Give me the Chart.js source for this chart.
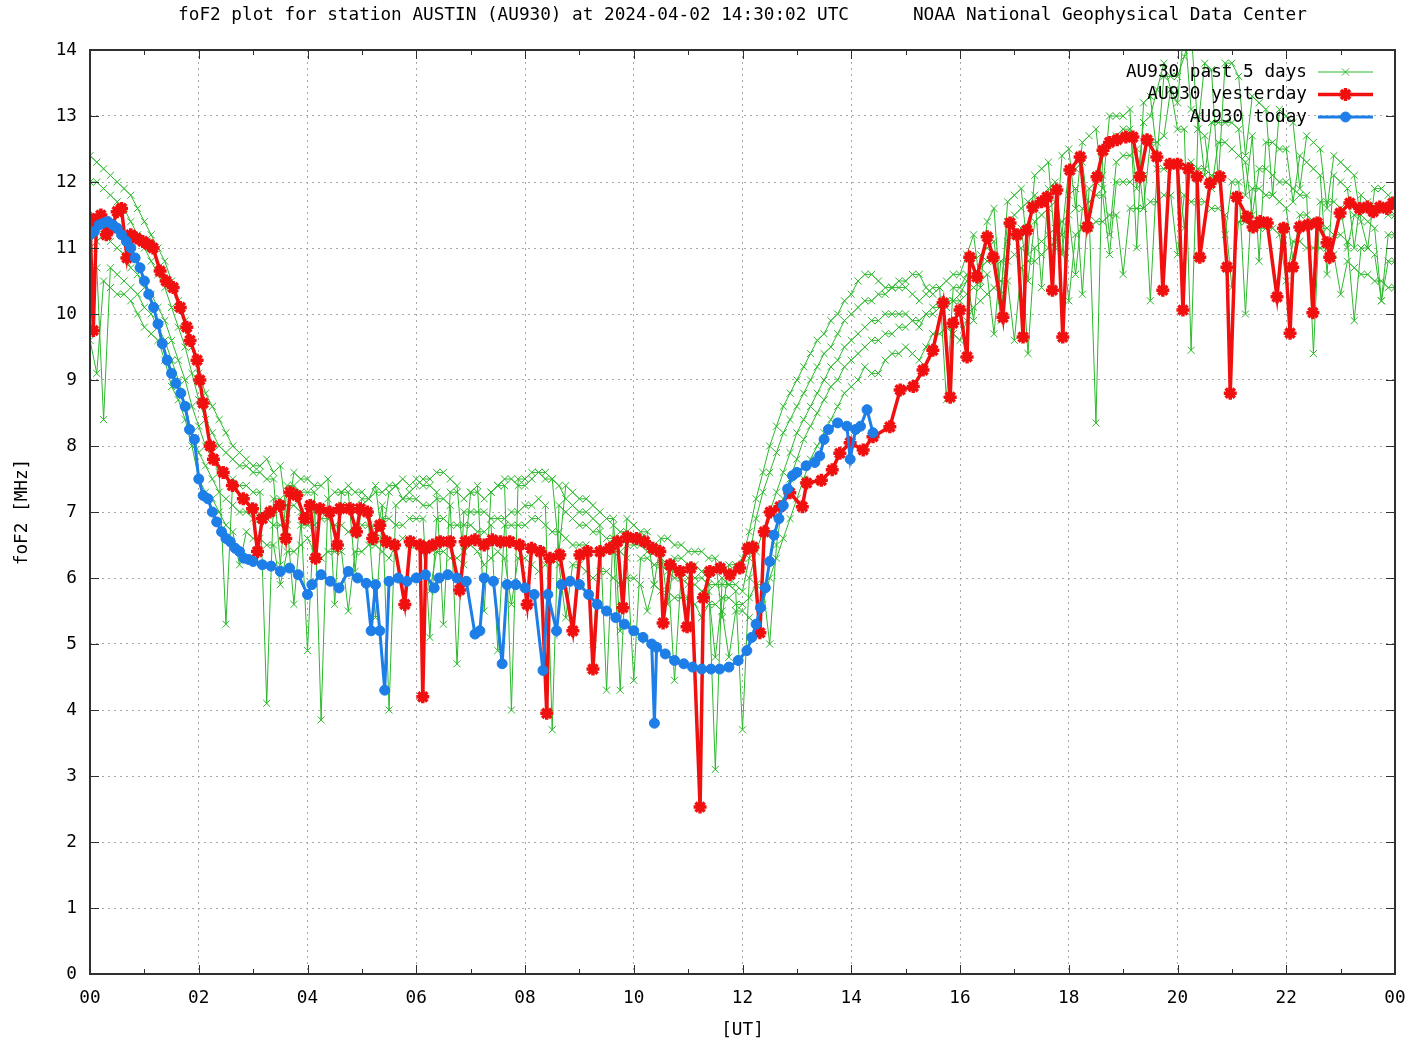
<!DOCTYPE html>
<html>
<head>
<meta charset="utf-8">
<script src="https://cdn.jsdelivr.net/npm/chart.js@4.4.1/dist/chart.umd.min.js"></script>
<style>
  html, body { margin: 0; padding: 0; background: #ffffff; }
  #wrap { width: 1408px; height: 1042px; }
</style>
</head>
<body>
<div id="wrap"><canvas id="c" width="1408" height="1042"></canvas></div>
<script>
// ---------------- DATA ----------------
const chartTitle = 'foF2 plot for station AUSTIN (AU930) at 2024-04-02 14:30:02 UTC      NOAA National Geophysical Data Center';
const xAxisTitle = '[UT]';
const yAxisTitle = 'foF2 [MHz]';
const seriesLabels = ['AU930 past 5 days', 'AU930 yesterday', 'AU930 today'];

// past 5 days (shared time base, 7.5-minute cadence)
const greenHours = [
 0,0.125,0.25,0.375,0.5,0.625,0.75,0.875, 1,1.125,1.25,1.375,1.5,1.625,1.75,1.875,
 2,2.125,2.25,2.375,2.5,2.625,2.75,2.875, 3,3.125,3.25,3.375,3.5,3.625,3.75,3.875,
 4,4.125,4.25,4.375,4.5,4.625,4.75,4.875, 5,5.125,5.25,5.375,5.5,5.625,5.75,5.875,
 6,6.125,6.25,6.375,6.5,6.625,6.75,6.875, 7,7.125,7.25,7.375,7.5,7.625,7.75,7.875,
 8,8.125,8.25,8.375,8.5,8.625,8.75,8.875, 9,9.125,9.25,9.375,9.5,9.625,9.75,9.875,
 10,10.125,10.25,10.375,10.5,10.625,10.75,10.875, 11,11.125,11.25,11.375,11.5,11.625,11.75,11.875,
 12,12.125,12.25,12.375,12.5,12.625,12.75,12.875, 13,13.125,13.25,13.375,13.5,13.625,13.75,13.875,
 14,14.125,14.25,14.375,14.5,14.625,14.75,14.875, 15,15.125,15.25,15.375,15.5,15.625,15.75,15.875,
 16,16.125,16.25,16.375,16.5,16.625,16.75,16.875, 17,17.125,17.25,17.375,17.5,17.625,17.75,17.875,
 18,18.125,18.25,18.375,18.5,18.625,18.75,18.875, 19,19.125,19.25,19.375,19.5,19.625,19.75,19.875,
 20,20.125,20.25,20.375,20.5,20.625,20.75,20.875, 21,21.125,21.25,21.375,21.5,21.625,21.75,21.875,
 22,22.125,22.25,22.375,22.5,22.625,22.75,22.875, 23,23.125,23.25,23.375,23.5,23.625,23.75,23.875,
 24];

const pastDay1 = [
 12.4,12.3,12.2,12.1,12.0,11.9,11.8,11.6, 11.4,11.2,11.0,10.8,10.5,10.2,9.9,9.5,
 9.1,8.8,8.6,8.4,8.2,8.0,7.9,7.8, 7.7,7.7,7.8,7.6,7.7,6.9,7.6,7.5,
 7.5,7.4,7.4,7.5,5.6,7.3,7.4,7.3, 7.3,7.2,7.4,6.6,7.3,7.4,7.2,7.3,
 7.4,7.5,7.5,7.6,7.6,7.5,7.4,6.2, 7.3,7.4,5.5,7.3,7.4,7.5,7.5,7.4,
 7.4,7.5,7.6,7.6,7.5,6.4,7.4,7.3, 7.2,7.2,7.1,7.0,6.9,6.9,5.2,6.9,
 6.8,6.7,6.7,5.9,6.6,6.6,6.5,6.5, 6.4,6.4,6.4,6.3,6.3,5.4,6.2,6.2,
 6.3,6.7,7.2,7.6,8.0,8.3,8.6,8.8, 9.0,9.2,9.4,9.6,9.7,9.9,10.0,10.2,
 10.3,10.5,10.6,10.6,10.5,10.4,10.4,10.5, 10.5,10.6,10.6,10.4,10.3,10.4,10.5,10.6,
 10.6,10.9,11.2,10.4,11.4,11.6,10.2,11.7, 11.8,11.9,10.9,12.1,12.2,12.3,11.0,12.4,
 12.5,11.6,12.6,12.7,12.8,11.9,13.0,13.0, 13.0,13.1,11.0,13.2,13.3,12.4,13.6,13.6,
 13.6,13.9,14.3,12.8,13.8,13.7,12.0,13.8, 13.8,13.6,12.4,13.3,13.2,13.1,11.8,13.1,
 13.0,12.9,11.9,12.7,12.6,12.5,11.6,12.4, 12.3,12.2,12.1,11.4,11.0,11.9,11.9,11.8,
 11.7];
const pastDay2 = [
 12.0,12.0,11.9,11.8,11.7,11.6,11.4,11.2, 11.0,10.8,10.6,10.4,10.1,9.8,9.5,9.1,
 8.7,8.4,8.2,8.0,7.9,7.8,7.7,7.7, 7.6,7.6,7.5,7.5,6.2,7.4,7.4,7.3,
 7.3,7.3,3.85,7.2,7.3,7.3,7.3,6.1, 7.2,7.2,7.3,7.3,7.4,7.4,7.5,7.4,
 7.5,7.4,7.4,7.3,5.3,7.3,7.3,7.2, 7.3,7.3,7.2,7.3,7.4,7.4,4.0,7.5,
 7.5,7.6,7.6,7.5,7.5,7.4,7.2,7.1, 7.0,7.0,6.9,6.8,4.3,6.8,6.7,6.7,
 6.6,6.6,6.5,6.5,6.4,5.6,6.3,6.3, 6.2,6.2,6.1,6.0,3.1,6.0,5.9,5.9,
 5.8,6.3,6.9,7.3,7.6,7.9,8.2,8.4, 8.6,8.8,9.0,9.2,9.4,9.5,9.7,9.9,
 10.0,10.1,10.2,10.2,10.3,10.3,10.4,10.4, 10.4,10.3,10.2,10.3,10.4,10.4,8.7,10.4,
 10.4,10.6,9.9,10.9,11.0,11.1,10.3,11.4, 11.5,11.6,11.7,11.8,10.4,11.9,12.0,11.2,
 12.2,12.2,12.3,11.5,8.35,12.5,12.6,12.7, 12.8,12.8,11.9,12.9,13.0,13.4,13.8,13.4,
 13.2,14.4,13.1,13.0,12.1,12.9,12.9,12.9, 12.9,12.8,11.8,12.7,10.8,12.6,12.6,12.5,
 12.5,11.7,12.4,12.3,12.2,12.1,10.6,12.1, 12.0,11.9,11.0,11.8,11.7,11.6,11.6,11.5,
 11.5];
const pastDay3 = [
 11.0,11.1,11.2,11.1,11.0,10.9,10.7,10.6, 10.4,10.3,10.1,9.9,9.6,9.3,9.0,8.6,
 8.3,8.0,7.8,7.6,5.3,7.5,7.4,7.4, 7.3,7.3,4.1,7.2,7.2,7.1,7.1,7.0,
 4.9,7.0,7.0,7.0,7.0,7.1,7.1,7.0, 7.1,7.0,6.6,7.1,4.0,7.1,7.2,7.2,
 7.2,7.1,7.1,7.2,7.2,7.1,4.7,7.0, 7.0,7.0,7.0,6.9,6.9,6.9,7.0,7.0,
 7.1,7.1,7.2,7.1,3.7,7.1,7.0,6.9, 6.8,6.8,6.7,6.7,6.6,6.6,4.3,6.5,
 6.5,6.5,6.4,6.4,6.3,6.2,4.45,6.1, 6.0,6.0,6.0,5.9,5.9,5.9,5.9,5.8,
 3.7,6.0,6.4,6.7,7.0,7.3,7.6,7.9, 8.2,8.4,8.6,8.8,9.0,9.2,9.3,9.5,
 9.6,9.7,9.8,9.9,9.9,10.0,10.0,10.0, 10.0,9.9,9.8,10.0,10.1,10.1,10.2,10.2,
 10.3,10.5,10.6,10.7,10.8,10.9,9.9,11.1, 11.2,11.3,10.5,11.4,11.5,11.6,11.7,10.9,
 11.8,11.9,10.3,11.9,12.0,12.1,11.2,12.3, 12.4,12.4,12.5,11.6,12.6,12.6,12.7,13.4,
 12.8,12.8,9.45,12.8,12.7,11.9,12.6,12.6, 12.5,12.4,12.3,11.5,12.2,12.2,12.1,12.0,
 12.0,11.9,11.8,11.8,9.4,11.7,11.7,11.7, 11.6,11.0,11.5,11.5,11.4,11.3,10.2,11.2,
 11.2];
const pastDay4 = [
 10.7,10.7,8.4,10.7,10.6,10.5,10.4,10.3, 10.1,10.0,9.8,9.6,9.3,9.0,8.6,8.2,
 7.9,7.7,7.5,7.3,7.2,7.1,7.0,7.0, 6.9,6.9,6.9,6.8,6.8,6.8,5.6,6.8,
 6.8,6.8,6.9,6.9,6.8,6.8,6.7,6.7, 6.8,6.8,5.4,6.9,6.9,6.8,6.8,6.9,
 6.9,6.9,5.1,6.9,6.9,6.8,6.8,6.8, 6.8,6.7,6.7,6.8,4.9,6.8,6.8,6.8,
 6.8,6.9,6.9,6.8,6.7,6.7,6.6,6.5, 6.5,6.5,5.0,6.4,6.4,6.4,6.4,6.3,
 4.45,6.3,6.3,6.2,6.2,6.1,6.0,6.0, 5.9,5.9,5.8,5.8,4.8,5.7,5.7,5.6,
 5.6,5.7,5.9,5.9,5.0,6.5,7.2,7.5, 7.8,8.1,8.3,8.5,8.7,8.9,9.0,9.2,
 9.3,9.4,9.5,9.6,9.6,9.7,9.7,9.8, 9.8,9.9,9.9,10.0,10.0,10.1,10.1,10.2,
 10.2,10.3,10.4,10.5,10.6,9.7,10.8,10.8, 10.9,11.0,9.4,11.0,11.1,11.2,11.3,11.4,
 11.5,10.6,11.6,11.7,11.8,11.8,10.9,12.0, 12.0,12.0,12.1,12.1,10.2,12.2,12.2,12.3,
 12.3,11.3,12.3,12.2,12.2,12.1,12.1,11.2, 12.0,12.0,10.0,11.9,11.9,11.8,11.8,11.7,
 11.6,10.8,11.5,11.5,11.4,11.3,11.3,11.2, 11.2,11.1,9.9,11.0,11.0,10.9,10.2,10.8,
 10.8];
const pastDay5 = [
 9.6,9.1,10.5,10.4,10.3,10.3,10.2,10.0, 9.8,9.7,9.6,9.3,8.9,8.7,8.4,8.0,
 7.5,7.3,7.2,7.0,6.8,6.7,6.2,6.7, 6.6,6.6,6.5,6.5,5.9,6.4,6.4,6.5,
 6.6,6.4,6.3,6.4,6.4,6.4,5.5,6.4, 6.4,6.5,6.5,6.4,6.3,6.5,6.6,6.5,
 6.5,6.4,5.8,6.4,6.4,6.3,6.3,6.4, 6.5,6.4,6.2,6.3,6.4,6.3,5.6,6.3,
 6.3,6.2,6.1,6.2,6.3,6.2,5.4,6.2, 6.2,6.1,6.0,6.1,6.1,6.0,5.9,6.0,
 6.0,5.9,5.5,5.9,5.8,5.8,5.7,5.7, 5.7,5.6,5.4,5.6,5.6,5.5,4.8,5.5,
 5.5,5.4,5.3,5.6,6.0,6.3,6.6,6.9, 7.2,7.5,7.8,8.0,8.2,8.4,8.6,8.8,
 8.9,9.0,9.2,9.1,9.1,9.3,9.4,9.4, 9.5,9.4,9.3,9.5,9.7,9.7,9.8,9.7,
 9.6,9.9,10.1,10.2,10.3,10.4,10.5,10.5, 9.6,10.7,10.8,10.8,10.9,11.0,11.1,11.2,
 10.2,11.2,11.3,11.3,11.4,11.4,11.5,11.5, 10.6,11.6,11.6,11.6,11.7,11.7,11.8,11.8,
 10.9,11.8,11.7,11.7,11.7,11.6,11.6,11.5, 10.4,11.4,11.4,11.3,11.3,11.3,11.3,11.2,
 10.5,11.1,11.1,11.0,11.0,11.0,11.0,10.9, 10.3,10.8,10.7,10.6,10.6,10.5,10.5,10.4,
 10.4];

// yesterday
const yesterdayHours = [
 0.00,0.06,0.12,0.20,0.30,0.40,0.50,0.58,0.68,0.75,0.85,0.97,1.08,1.16,1.29,1.40,1.53,1.66,1.78,1.84,
 1.97,2.02,2.08,2.21,2.27,2.45,2.62,2.82,2.99,3.08,3.17,3.31,3.49,3.60,3.68,3.80,3.95,4.05,4.15,4.23,
 4.41,4.55,4.60,4.78,4.90,4.97,5.10,5.20,5.33,5.45,5.60,5.79,5.89,6.07,6.12,6.18,6.30,6.44,6.62,6.80,
 6.90,7.08,7.25,7.40,7.55,7.72,7.90,8.04,8.12,8.28,8.40,8.46,8.64,8.88,9.01,9.15,9.25,9.38,9.56,9.70,
 9.80,9.88,10.05,10.20,10.35,10.48,10.54,10.67,10.85,10.98,11.05,11.22,11.28,11.40,11.59,11.77,11.95,12.10,12.19,12.32,
 12.40,12.51,12.69,12.87,13.10,13.18,13.45,13.65,13.79,13.98,14.22,14.40,14.71,14.90,15.14,15.32,15.50,15.69,15.82,15.87,
 16.00,16.13,16.18,16.31,16.50,16.61,16.79,16.92,17.05,17.16,17.23,17.34,17.50,17.60,17.70,17.78,17.89,18.02,18.21,18.34,
 18.52,18.63,18.75,18.89,19.05,19.18,19.31,19.44,19.62,19.73,19.86,20.00,20.10,20.20,20.36,20.41,20.60,20.78,20.91,20.97,
 21.09,21.28,21.39,21.52,21.65,21.83,21.95,22.07,22.12,22.25,22.40,22.49,22.57,22.75,22.80,22.99,23.17,23.35,23.49,23.60,
 23.72,23.85,23.96];
const yesterdayValues = [
 11.45,9.75,11.40,11.50,11.20,11.30,11.55,11.60,10.85,11.20,11.15,11.10,11.05,11.00,10.65,10.50,10.40,10.10,9.80,9.60,
 9.30,9.00,8.65,8.00,7.80,7.60,7.40,7.20,7.05,6.40,6.90,7.00,7.10,6.60,7.30,7.25,6.90,7.10,6.30,7.05,
 7.00,6.50,7.05,7.05,6.70,7.05,7.00,6.60,6.80,6.55,6.50,5.60,6.55,6.50,4.20,6.45,6.50,6.55,6.55,5.82,
 6.55,6.58,6.50,6.58,6.55,6.55,6.50,5.60,6.45,6.40,3.95,6.30,6.35,5.20,6.35,6.40,4.62,6.40,6.45,6.55,
 5.55,6.62,6.60,6.55,6.45,6.40,5.32,6.20,6.10,5.26,6.15,2.53,5.70,6.10,6.15,6.05,6.15,6.45,6.47,5.17,
 6.70,7.00,7.08,7.29,7.08,7.44,7.48,7.64,7.89,8.05,7.94,8.14,8.29,8.85,8.90,9.15,9.45,10.17,8.74,9.86,
 10.06,9.35,10.86,10.56,11.17,10.86,9.95,11.38,11.20,9.65,11.27,11.62,11.70,11.77,10.36,11.88,9.65,12.18,12.38,11.32,
 12.08,12.48,12.60,12.64,12.68,12.68,12.08,12.64,12.38,10.36,12.27,12.27,10.06,12.20,12.08,10.86,11.98,12.08,10.71,8.80,
 11.77,11.47,11.32,11.40,11.38,10.26,11.30,9.71,10.71,11.32,11.35,10.02,11.38,11.08,10.86,11.53,11.68,11.60,11.62,11.55,
 11.62,11.60,11.68];

// today
const todayHours = [
 0.00,0.08,0.17,0.25,0.33,0.42,0.50,0.58,0.67,0.75,0.83,0.92,1.00,1.08,1.17,1.25,1.33,1.42,1.50,1.58,
 1.67,1.75,1.83,1.92,2.00,2.08,2.17,2.25,2.33,2.42,2.50,2.58,2.67,2.75,2.83,2.92,3.00,3.17,3.33,3.50,
 3.67,3.83,4.00,4.08,4.25,4.42,4.58,4.75,4.92,5.08,5.17,5.25,5.33,5.42,5.50,5.67,5.83,6.00,6.17,6.33,
 6.42,6.58,6.75,6.92,7.08,7.17,7.25,7.42,7.58,7.67,7.83,8.00,8.17,8.33,8.42,8.58,8.67,8.83,9.00,9.17,
 9.33,9.50,9.67,9.83,10.00,10.17,10.33,10.38,10.42,10.58,10.75,10.92,11.08,11.25,11.42,11.58,11.75,11.92,12.08,12.17,
 12.25,12.33,12.42,12.50,12.58,12.67,12.75,12.83,12.92,13.00,13.17,13.33,13.42,13.50,13.58,13.75,13.92,13.98,14.08,14.17,
 14.29,14.40];
const todayValues = [
 11.20,11.25,11.35,11.38,11.40,11.35,11.30,11.20,11.10,11.00,10.85,10.70,10.50,10.30,10.10,9.85,9.55,9.30,9.10,8.95,
 8.80,8.60,8.25,8.10,7.50,7.25,7.20,7.00,6.85,6.70,6.60,6.55,6.45,6.40,6.30,6.28,6.25,6.20,6.18,6.10,
 6.15,6.05,5.75,5.90,6.05,5.95,5.85,6.10,6.00,5.92,5.20,5.90,5.20,4.30,5.95,6.00,5.95,6.00,6.05,5.85,
 6.00,6.05,6.00,5.95,5.15,5.20,6.00,5.95,4.70,5.90,5.90,5.85,5.75,4.60,5.75,5.20,5.90,5.95,5.90,5.75,
 5.60,5.50,5.40,5.30,5.20,5.10,5.00,3.80,4.95,4.85,4.75,4.70,4.65,4.62,4.62,4.62,4.65,4.75,4.90,5.10,
 5.30,5.55,5.85,6.25,6.65,6.90,7.10,7.35,7.55,7.60,7.70,7.75,7.85,8.10,8.25,8.35,8.30,7.80,8.25,8.30,
 8.55,8.20];

// ---------------- BUILD ----------------
function pts(xs, ys) { return xs.map((x, i) => ({ x: x, y: ys[i] })); }

const GREEN = '#2cb82c', RED = '#f01010', BLUE = '#1c7ee6';
const FONT = 'DejaVu Sans Mono, Liberation Mono, monospace';
const FSIZE = 17.7;

const pastDays = [pastDay1, pastDay2, pastDay3, pastDay4, pastDay5];
const datasets = [];
datasets.push({
  label: seriesLabels[2], data: pts(todayHours, todayValues), order: 1,
  borderColor: BLUE, backgroundColor: BLUE, borderWidth: 3,
  pointStyle: 'circle', pointRadius: 5, pointBorderWidth: 1, pointBackgroundColor: BLUE, pointBorderColor: BLUE,
  tension: 0, showInLegend: true, legendRow: 2
});
datasets.push({
  label: seriesLabels[1], data: pts(yesterdayHours, yesterdayValues), order: 2,
  borderColor: RED, backgroundColor: RED, borderWidth: 3.5,
  pointStyle: 'star', pointRadius: 6.5, pointBorderWidth: 3.5, pointBorderColor: RED, pointBackgroundColor: RED,
  tension: 0, showInLegend: true, legendRow: 1
});
pastDays.forEach((d, i) => {
  datasets.push({
    label: seriesLabels[0], data: pts(greenHours, d), order: 3 + i,
    borderColor: GREEN, backgroundColor: GREEN, borderWidth: 1,
    pointStyle: 'crossRot', pointRadius: 5, pointBorderWidth: 1, pointBorderColor: GREEN,
    tension: 0, showInLegend: i === 0, legendRow: 0
  });
});

const frame = {
  id: 'gnuplotFrame',
  afterDatasetsDraw(chart) {
    const ctx = chart.ctx, a = chart.chartArea;
    const xs = chart.scales.x, ys = chart.scales.y;
    ctx.save();
    ctx.strokeStyle = '#303030';
    ctx.lineWidth = 1;
    ctx.beginPath();
    for (let h = 1; h < 24; h++) {
      const px = Math.round(xs.getPixelForValue(h)) + 0.5;
      const len = (h % 2 === 0) ? 9 : 5;
      ctx.moveTo(px, a.bottom); ctx.lineTo(px, a.bottom - len);
      ctx.moveTo(px, a.top); ctx.lineTo(px, a.top + len);
    }
    for (let v = 1; v < 14; v++) {
      const py = Math.round(ys.getPixelForValue(v)) + 0.5;
      ctx.moveTo(a.left, py); ctx.lineTo(a.left + 9, py);
      ctx.moveTo(a.right, py); ctx.lineTo(a.right - 9, py);
    }
    ctx.stroke();
    ctx.lineWidth = 2;
    ctx.strokeRect(a.left, a.top, a.right - a.left, a.bottom - a.top);
    ctx.restore();
  }
};

const gpLegend = {
  id: 'gpLegend',
  afterDraw(chart) {
    const ctx = chart.ctx, a = chart.chartArea;
    const textRight = a.right - 88, lineL = a.right - 77, lineR = a.right - 22;
    const rows = chart.data.datasets.filter(d => d.showInLegend).sort((p, q) => p.legendRow - q.legendRow);
    ctx.save();
    ctx.font = FSIZE + 'px ' + FONT;
    ctx.textAlign = 'right';
    ctx.textBaseline = 'middle';
    rows.forEach((d, i) => {
      const y = a.top + 22 + i * 22.5;
      ctx.fillStyle = '#000';
      ctx.fillText(d.label, textRight, y);
      ctx.strokeStyle = d.borderColor;
      ctx.lineWidth = d.borderWidth;
      ctx.beginPath(); ctx.moveTo(lineL, y); ctx.lineTo(lineR, y); ctx.stroke();
      ctx.fillStyle = d.pointBackgroundColor || d.borderColor;
      ctx.strokeStyle = d.pointBorderColor || d.borderColor;
      ctx.lineWidth = d.pointBorderWidth;
      Chart.helpers.drawPoint(ctx, { pointStyle: d.pointStyle, radius: d.pointRadius, rotation: 0, borderWidth: d.pointBorderWidth }, (lineL + lineR) / 2, y);
    });
    ctx.restore();
  }
};

const tickFont = { family: FONT, size: FSIZE, weight: 'normal' };

new Chart(document.getElementById('c'), {
  type: 'line',
  data: { datasets: datasets },
  plugins: [frame, gpLegend],
  options: {
    responsive: false,
    animation: false,
    devicePixelRatio: 1,
    layout: { padding: { left: 0, right: 13, top: 0, bottom: 0 } },
    elements: { line: { tension: 0 } },
    plugins: {
      legend: { display: false },
      tooltip: { enabled: false },
      title: {
        display: true, text: chartTitle, fullSize: false, color: '#000',
        font: { family: FONT, size: FSIZE, weight: 'normal' },
        padding: { top: 5, bottom: 23.76 }
      }
    },
    scales: {
      x: {
        type: 'linear', min: 0, max: 24,
        ticks: {
          stepSize: 2, autoSkip: false, maxRotation: 0, color: '#000', font: tickFont, padding: 14,
          callback: (v) => { const h = v % 24; return (h < 10 ? '0' : '') + h; }
        },
        grid: { color: '#a8a8a8', lineWidth: 1, drawTicks: false },
        border: { display: false, dash: [2, 4] },
        title: { display: true, text: xAxisTitle, color: '#000', font: tickFont, padding: { top: 4, bottom: 1 } },
        afterFit(s) { s.height = 68; s.paddingLeft = 0; s.paddingRight = 0; }
      },
      y: {
        type: 'linear', min: 0, max: 14,
        ticks: { stepSize: 1, color: '#000', font: tickFont, padding: 13 },
        grid: { color: '#a8a8a8', lineWidth: 1, drawTicks: false },
        border: { display: false, dash: [2, 4] },
        title: { display: true, text: yAxisTitle, color: '#000', font: tickFont, padding: 12 },
        afterFit(s) { s.width = 90; s.paddingTop = 0; s.paddingBottom = 0; }
      }
    }
  }
});
</script>
</body>
</html>
